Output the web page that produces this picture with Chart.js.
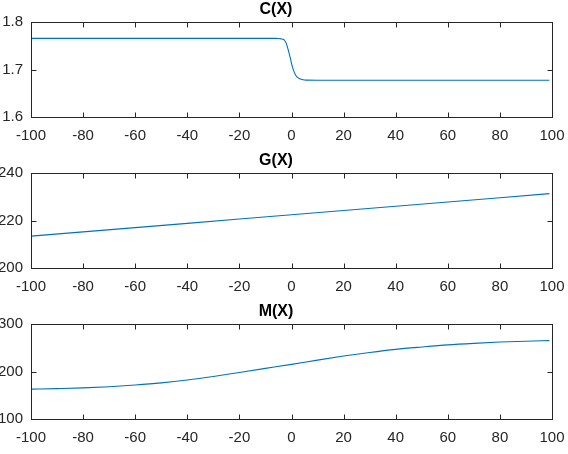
<!DOCTYPE html>
<html>
<head>
<meta charset="utf-8">
<script src="https://cdn.jsdelivr.net/npm/chart.js@4/dist/chart.umd.min.js"></script>
<style>
  html, body { margin: 0; padding: 0; background: #fff; }
  #wrap { position: relative; width: 568px; height: 454px; }
  .pane { position: absolute; left: 0; width: 568px; height: 151px; }
</style>
</head>
<body>
<div id="wrap">
  <div class="pane" style="top:0px"><canvas id="c1"></canvas></div>
  <div class="pane" style="top:151px"><canvas id="c2"></canvas></div>
  <div class="pane" style="top:302px"><canvas id="c3"></canvas></div>
</div>
<script>
// ---- data ----
const titles = ["C(X)", "G(X)", "M(X)"];
const xTicks = [-100, -80, -60, -40, -20, 0, 20, 40, 60, 80, 100];

const cX = [-100, -20, -6, -5, -4, -3, -2.5, -2, -1.5, -1, -0.5, 0, 0.5, 1, 1.5, 2, 3, 4, 5, 6, 10, 99];
const cY = [1.7656, 1.7656, 1.7655, 1.7652, 1.7645, 1.763, 1.760, 1.755, 1.746, 1.736, 1.725, 1.713, 1.703, 1.695, 1.689, 1.685, 1.681, 1.679, 1.678, 1.6776, 1.6775, 1.6775];
const cTicks = [1.6, 1.7, 1.8];

const gX = [-100, -80, -60, -40, -20, 0, 20, 40, 60, 80, 99];
const gY = [213.4, 215.2, 217.0, 218.8, 220.6, 222.4, 224.2, 226.0, 227.8, 229.6, 231.3];
const gTicks = [200, 220, 240];

const mX = [-100, -90, -80, -70, -60, -50, -40, -30, -20, -10, 0, 10, 20, 30, 40, 50, 60, 70, 80, 90, 99];
const mY = [162.8, 164.0, 165.5, 168.0, 171.5, 176.0, 182.0, 189.5, 198.0, 206.5, 215.0, 224.0, 232.5, 240.0, 246.5, 251.5, 256.0, 259.3, 262.0, 263.8, 265.0];
const mTicks = [100, 200, 300];

// ---- styling ----
const AXIS = '#262626';
const LINE = '#0072BD';
const FONT = "'Liberation Sans', Arial, Helvetica, sans-serif";

const boxTicks = {
  id: 'boxTicks',
  afterDraw(chart) {
    const ctx = chart.ctx, a = chart.chartArea;
    const xs = chart.scales.x, ys = chart.scales.y;
    const L = Math.round(a.left) + 0.5, R = Math.round(a.right) + 0.5;
    const T = Math.round(a.top) + 0.5, B = Math.round(a.bottom) + 0.5;
    const tl = 5;
    ctx.save();
    ctx.strokeStyle = AXIS;
    ctx.lineWidth = 1;
    ctx.beginPath();
    xs.ticks.forEach(t => {
      const px = Math.round(xs.getPixelForValue(t.value)) + 0.5;
      ctx.moveTo(px, B); ctx.lineTo(px, B - tl);
      ctx.moveTo(px, T); ctx.lineTo(px, T + tl);
    });
    ys.ticks.forEach(t => {
      const py = Math.round(ys.getPixelForValue(t.value)) + 0.5;
      ctx.moveTo(L, py); ctx.lineTo(L + tl, py);
      ctx.moveTo(R, py); ctx.lineTo(R - tl, py);
    });
    ctx.stroke();
    ctx.strokeRect(L, T, R - L, B - T);
    ctx.restore();
  }
};

function makeChart(id, title, xs, ys, yTicks, ymin, ymax, smooth) {
  const pts = xs.map((x, i) => ({ x: x, y: ys[i] }));
  return new Chart(document.getElementById(id), {
    type: 'line',
    data: { datasets: [{
      data: pts,
      borderColor: LINE,
      borderWidth: 1.1,
      pointRadius: 0,
      fill: false,
      tension: 0,
      cubicInterpolationMode: smooth ? 'monotone' : 'default'
    }]},
    plugins: [boxTicks],
    options: {
      responsive: true,
      maintainAspectRatio: false,
      animation: false,
      events: [],
      layout: { padding: { left: 0, right: 16, top: 0, bottom: 0 } },
      plugins: {
        legend: { display: false },
        tooltip: { enabled: false },
        title: {
          display: true,
          text: title,
          color: '#000',
          font: { family: FONT, size: 16, weight: 'bold' },
          padding: { top: 0, bottom: 2.8 }
        }
      },
      scales: {
        x: {
          type: 'linear',
          min: -100, max: 100,
          afterBuildTicks(s) { s.ticks = xTicks.map(v => ({ value: v })); },
          afterFit(s) { s.height = 34; s.paddingLeft = 0; s.paddingRight = 0; },
          grid: { display: false, drawTicks: false },
          border: { display: false },
          ticks: {
            color: AXIS,
            font: { family: FONT, size: 15 },
            padding: 10,
            maxRotation: 0,
            autoSkip: false,
            callback: v => String(v)
          }
        },
        y: {
          type: 'linear',
          min: ymin, max: ymax,
          afterBuildTicks(s) { s.ticks = yTicks.map(v => ({ value: v })); },
          afterFit(s) { s.width = 31; s.paddingTop = 0; s.paddingBottom = 0; },
          grid: { display: false, drawTicks: false },
          border: { display: false },
          ticks: {
            color: AXIS,
            font: { family: FONT, size: 15 },
            padding: 8,
            autoSkip: false,
            callback: v => String(v)
          }
        }
      }
    }
  });
}

makeChart('c1', titles[0], cX, cY, cTicks, 1.6, 1.8, true);
makeChart('c2', titles[1], gX, gY, gTicks, 200, 240, false);
makeChart('c3', titles[2], mX, mY, mTicks, 100, 300, true);
</script>
</body>
</html>
